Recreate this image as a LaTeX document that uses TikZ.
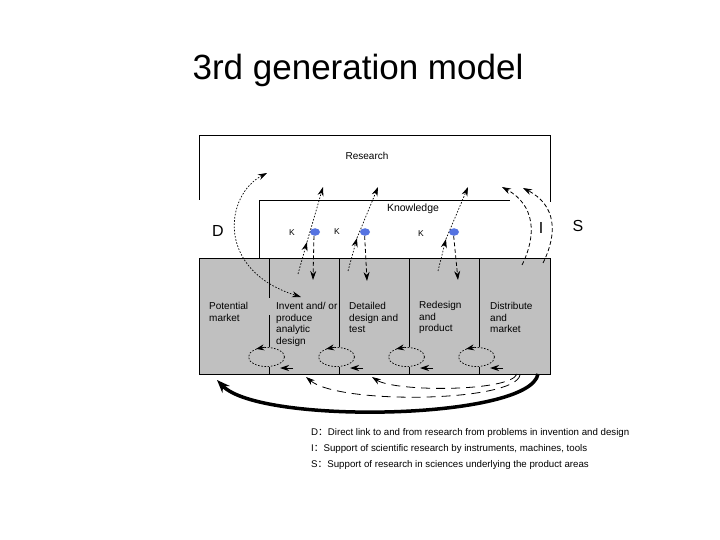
\documentclass[tikz,border=0pt]{standalone}
\usepackage{fontspec}
\setmainfont{Liberation Sans}
\newfontfamily\cjk{Noto Sans CJK SC}
\usetikzlibrary{arrows.meta,shapes.geometric}
\definecolor{boxgray}{RGB}{192,192,192}
\definecolor{dotblue}{RGB}{85,115,225}
\begin{document}
\begin{tikzpicture}[x=1pt,y=-1pt,
  frame/.style={line width=0.8pt,black},
  tipend/.style={-{Stealth[length=9pt,width=6pt]}},
  tipboth/.style={{Stealth[length=9pt,width=6pt]}-{Stealth[length=9pt,width=6pt]}},
  dotline/.style={line width=0.7pt,dash pattern=on 1.6pt off 1.6pt},
  dashline/.style={line width=0.8pt,dash pattern=on 4pt off 2.5pt},
  longdash/.style={line width=0.8pt,dash pattern=on 9pt off 6pt},
  loopstyle/.style={draw,ellipse,line width=0.7pt,dash pattern=on 1.6pt off 1.6pt,minimum width=36pt,minimum height=19pt,inner sep=0pt},
  bluedot/.style={ellipse,fill=dotblue,minimum width=10pt,minimum height=7.5pt,inner sep=0pt},
  celltext/.style={anchor=north west,align=left,inner sep=0pt,font=\fontsize{10}{11.7}\selectfont},
  bigletter/.style={font=\fontsize{16}{18}\selectfont},
  ksmall/.style={font=\fontsize{8.5}{9}\selectfont},
  legend/.style={anchor=base west,inner sep=0pt,font=\fontsize{9.7}{12}\selectfont}]
\useasboundingbox (0,0) rectangle (720,540);

% title
\node[anchor=base,font=\fontsize{35}{40}\selectfont] (title) at (358,80) {3rd generation model};

% research and knowledge frames
\draw[frame] (199,200) |- (550,135.5) -- (550,202);
\node[font=\fontsize{10}{12}\selectfont] (research) at (367,156) {Research};
\draw[frame] (259,258) |- (510,200.5);
\node[font=\fontsize{10.5}{12}\selectfont] (knowledge) at (413,209) {Knowledge};

% stage box
\node[draw,frame,fill=boxgray,anchor=north west,minimum width=351pt,minimum height=116pt,inner sep=0pt] (stage) at (199,258) {};

% dividers
\draw[frame] (269,258) -- (269,298) (269,315) -- (269,347) (269,367) -- (269,374);
\foreach \d in {339,409,479}{
  \draw[frame] (\d,258) -- (\d,347) (\d,367) -- (\d,374);
}

% loops
\foreach \d/\n in {269/1,339/2,409/3,479/4}{
  \node[loopstyle] (L\n) at (\d-2.5,357) {};
  \draw[-{Stealth[length=8pt,width=6pt]},line width=0.7pt] (L\n.100) -- (L\n.142);
  \coordinate (ba\n) at (\d+24,368);
  \coordinate (bb\n) at (\d+11,368);
  \draw[-{Stealth[length=9pt,width=6pt]},line width=1pt] (ba\n) -- (bb\n);
}

% cell texts
\node[celltext] (c1) at (209,302) {Potential\\market};
\node[celltext] (c2) at (276,302) {Invent and/ or\\produce\\analytic\\design};
\node[celltext] (c3) at (349,302) {Detailed\\design and\\test};
\node[celltext] (c4) at (419,301) {Redesign\\and\\product};
\node[celltext] (c5) at (490,302) {Distribute\\and\\market};

% knowledge dots and K labels
\node[bluedot] (k1) at (315,232) {};
\node[bluedot] (k2) at (365,232) {};
\node[bluedot] (k3) at (454,232) {};
\node[ksmall] (kl1) at (292,233) {K};
\node[ksmall] (kl2) at (337,232) {K};
\node[ksmall] (kl3) at (421,234) {K};

% downward dashed arrows from dots
\coordinate (d1) at (313,280);
\coordinate (d2) at (367,281);
\coordinate (d3) at (458,280);
\draw[dashline,tipend] (k1.255) -- (d1);
\draw[dashline,tipend] (k2.265) -- (d2);
\draw[dashline,tipend] (k3.265) -- (d3);

% upward lines from stages through knowledge to research
\coordinate (u1a) at (298,274); \coordinate (u1b) at (307,242); \coordinate (u1c) at (323,187);
\coordinate (u2a) at (348,271); \coordinate (u2b) at (357,238); \coordinate (u2c) at (378,187);
\coordinate (u3a) at (438,271); \coordinate (u3b) at (446,239); \coordinate (u3c) at (468,187);
\foreach \n in {1,2,3}{
  \draw[dotline,tipend] (u\n a) -- (u\n b);
  \draw[dotline,tipend] (u\n b) -- (u\n c);
}

% D link
\coordinate (dA) at (267,173);
\coordinate (dB) at (301,297);
\draw[dotline,tipboth] (dA) .. controls (225,195) and (215,270) .. (dB);
\node[bigletter] (Dl) at (218,231) {D};

% I and S links
\coordinate (iA) at (522,265); \coordinate (iB) at (502,187);
\coordinate (sA) at (543,263); \coordinate (sB) at (523,188);
\draw[dashline,tipend] (iA) .. controls (537,235) and (535,205) .. (iB);
\draw[dashline,tipend] (sA) .. controls (558,233) and (556,205) .. (sB);
\node[bigletter] (Il) at (541,228) {I};
\node[bigletter] (Sl) at (578,226) {S};

% bottom feedback arrows
\coordinate (fA) at (538,374); \coordinate (fB) at (217,380);
\draw[line width=3.5pt,-{Stealth[length=13pt,width=10pt]}] (fA) .. controls (530,420) and (260,425) .. (fB);
\coordinate (gA) at (520,375); \coordinate (gB) at (306,377);
\draw[longdash,tipend] (gA) .. controls (515,402) and (340,405) .. (gB);
\coordinate (hA) at (517,374); \coordinate (hB) at (372,377);
\draw[longdash,tipend] (hA) .. controls (510,392) and (395,392) .. (hB);

% legend
\node[legend] (legD) at (311,435) {D{\cjk ：}Direct link to and from research from problems in invention and design};
\node[legend] (legI) at (311,451) {I{\cjk ：}Support of scientific research by instruments, machines, tools};
\node[legend] (legS) at (311,467) {S{\cjk ：}Support of research in sciences underlying the product areas};
\end{tikzpicture}
\end{document}
